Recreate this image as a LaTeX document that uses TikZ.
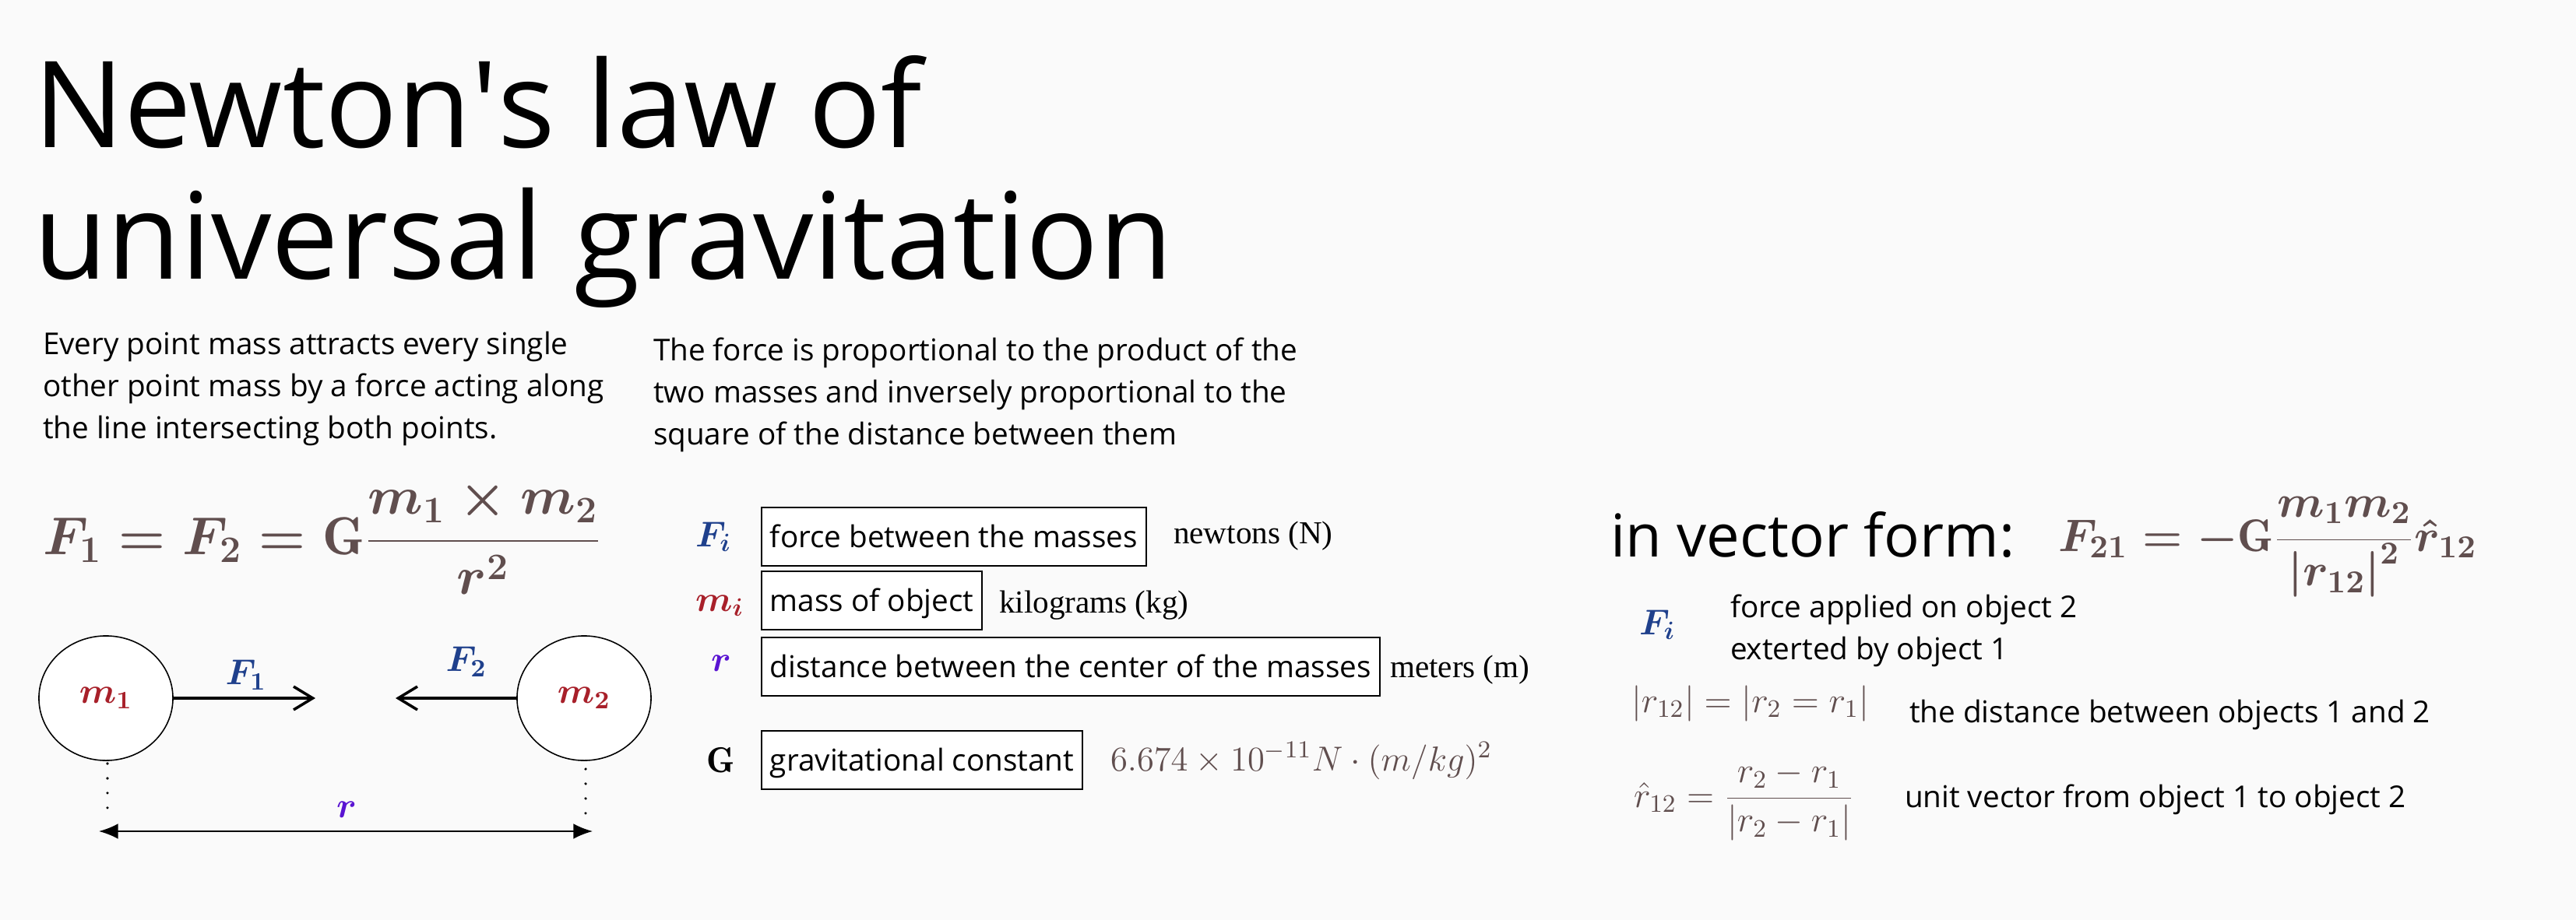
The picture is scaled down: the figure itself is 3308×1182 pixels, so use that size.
\RequirePackage{fix-cm}
\documentclass[tikz,border=0pt]{standalone}
\usepackage{fontspec}
\newfontfamily\osans{Open Sans}
\newfontfamily\userif{Liberation Serif}
\usetikzlibrary{arrows.meta,shapes.geometric}
\definecolor{bg}{RGB}{250,250,250}
\definecolor{mathbrown}{RGB}{96,78,78}
\definecolor{fblue}{RGB}{31,64,140}
\definecolor{mred}{RGB}{168,32,42}
\definecolor{rpurple}{RGB}{90,20,210}
\tikzset{
  every node/.style={inner sep=0pt, outer sep=0pt},
  title/.style={font=\osans\fontsize{43.9}{48}\selectfont, anchor=base west},
  body/.style={font=\osans\fontsize{11}{15.4}\selectfont, anchor=base west},
  unit/.style={font=\userif\fontsize{11.7}{14}\selectfont, anchor=base west},
  symb/.style={font=\fontsize{13.1}{15}\selectfont\boldmath, anchor=base west},
  smallmath/.style={font=\fontsize{13.1}{15}\selectfont\color{mathbrown}, anchor=base west},
  constmath/.style={font=\fontsize{12.7}{15}\selectfont\color{mathbrown}, anchor=base west},
  bigmath/.style={font=\fontsize{19.5}{24}\selectfont\boldmath\color{mathbrown}, anchor=base west},
  vecmath/.style={font=\fontsize{16.7}{21}\selectfont\boldmath\color{mathbrown}, anchor=base west},
  defbox/.style={draw, fill=white, line width=0.57pt, font=\osans\fontsize{11}{15.4}\selectfont,
    anchor=base west, text height=11.4pt, text depth=3.7pt, inner xsep=3.1pt, inner ysep=3.13pt},
  mass/.style={ellipse, draw, fill=white, line width=0.45pt, minimum width=1.72cm, minimum height=1.6cm,
    font=\fontsize{13.1}{15}\selectfont\boldmath},
  lab/.style={font=\fontsize{13.1}{15}\selectfont\boldmath},
  forcearrow/.style={line width=1pt, -{Straight Barb[length=7pt,width=8.5pt,line width=1pt]}},
  distarrow/.style={line width=0.6pt, {Latex[length=7pt,width=5.6pt]}-{Latex[length=7pt,width=5.6pt]}},
  guide/.style={line width=1pt, line cap=round, dash pattern=on 0pt off 5.4pt}
}
\begin{document}
\begin{tikzpicture}[x=0.01cm,y=-0.01cm]
\fill[bg] (0,0) rectangle (3308,1182);
\useasboundingbox (0,0) rectangle (3308,1182);

% title
\node[title] (title1) at (43,190) {Newton\textquotesingle s law of};
\node[title] (title2) at (43,359) {universal gravitation};

% paragraphs
\node[body] (para1) at (55,455) {\begin{tabular}[t]{@{}l@{}}Every point mass attracts every single\\other point mass by a force acting along\\the line intersecting both points.\end{tabular}};
\node[body] (para2) at (839,463) {\begin{tabular}[t]{@{}l@{}}The force is proportional to the product of the\\two masses and inversely proportional to the\\square of the distance between them\end{tabular}};

% main formula
\node[bigmath] (law) at (55,712) {$\displaystyle F_1 = F_2 = \mathrm{G}\frac{m_1\times m_2}{r^2}$};

% masses diagram
\node[mass] (m1) at (136,897) {\color{mred}$m_1$};
\node[mass] (m2) at (750,897) {\color{mred}$m_2$};
\coordinate (f1end) at (405,897);
\coordinate (f2end) at (508,897);
\draw[forcearrow] (m1.east) -- (f1end);
\draw[forcearrow] (m2.west) -- (f2end);
\node[lab] (f1lab) at (316,867) {\color{fblue}$F_1$};
\node[lab] (f2lab) at (599,850) {\color{fblue}$F_2$};
\coordinate (d1a) at (138,981);
\coordinate (d1b) at (138,1055);
\coordinate (d2a) at (752,988);
\coordinate (d2b) at (752,1050);
\draw[guide] (d1a) -- (d1b);
\draw[guide] (d2a) -- (d2b);
\coordinate (ra) at (127,1068);
\coordinate (rb) at (761,1068);
\draw[distarrow] (ra) -- (rb);
\node[lab] (rlab) at (445,1040) {\color{rpurple}$r$};

% definitions
\node[symb] (sF) at (893,702) {\color{fblue}$F_i$};
\node[symb] (sm) at (893,785) {\color{mred}$m_i$};
\node[symb] (sr) at (913,862) {\color{rpurple}$r$};
\node[symb] (sG) at (907,992) {$\mathrm{G}$};

\node[defbox] (bF) at (978,703) {force between the masses};
\node[defbox] (bm) at (978,785) {mass of object};
\node[defbox] (br) at (978,870) {distance between the center of the masses};
\node[defbox] (bG) at (978,990) {gravitational constant};

\node[unit] (uF) at (1507,698) {newtons (N)};
\node[unit] (um) at (1283,787) {kilograms (kg)};
\node[unit] (ur) at (1785,870) {meters (m)};
\node[constmath] (uG) at (1426,990) {$6.674\times 10^{-11} N\cdot (m/kg)^2$};

% vector form
\node[font=\osans\fontsize{21.6}{26}\selectfont, anchor=base west] (vf) at (2068,715) {in vector form:};
\node[vecmath] (vlaw) at (2643,708) {$\displaystyle F_{21} = -\mathrm{G}\frac{m_1 m_2}{{|r_{12}|}^2}\hat{r}_{12}$};
\node[symb] (vF) at (2105,815) {\color{fblue}$F_i$};
\node[body] (vFt) at (2222,793) {\begin{tabular}[t]{@{}l@{}}force applied on object 2\\exterted by object 1\end{tabular}};
\node[smallmath] (vr) at (2095,915) {$|r_{12}| = |r_2 = r_1|$};
\node[body] (vrt) at (2452,928) {the distance between objects 1 and 2};
\node[smallmath] (vu) at (2098,1037) {$\displaystyle \hat{r}_{12} = \frac{r_2 - r_1}{|r_2 - r_1|}$};
\node[body] (vut) at (2446,1037) {unit vector from object 1 to object 2};
\end{tikzpicture}
\end{document}
